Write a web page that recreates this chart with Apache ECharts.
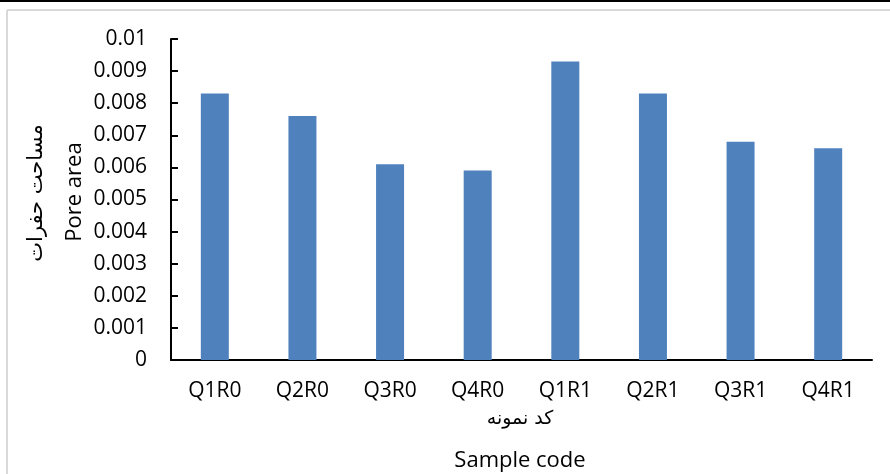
<!DOCTYPE html>
<html>
<head>
<meta charset="utf-8">
<script src="https://cdn.jsdelivr.net/npm/echarts@6/dist/echarts.min.js"></script>
<style>
  html, body { margin: 0; padding: 0; background: #fff; }
  #chart { width: 890px; height: 474px; }
</style>
</head>
<body>
<div id="chart"></div>
<script>
// Sample codes and measured pore area per sample
const categories = ['Q1R0', 'Q2R0', 'Q3R0', 'Q4R0', 'Q1R1', 'Q2R1', 'Q3R1', 'Q4R1'];
const poreArea = [0.0083, 0.0076, 0.0061, 0.0059, 0.0093, 0.0083, 0.0068, 0.0066];
const yMin = 0;
const yMax = 0.01;
const yStep = 0.001;

const latin = '"Open Sans", "Noto Sans", sans-serif';
const arabic = '"DejaVu Sans", serif';

const chart = echarts.init(document.getElementById('chart'), null, { renderer: 'canvas' });

chart.setOption({
  animation: false,
  backgroundColor: '#ffffff',
  grid: { left: 171, right: 18, top: 39, bottom: 114, containLabel: false },
  graphic: [
    // outer frame
    { type: 'rect', shape: { x: 0, y: 0, width: 890, height: 2 }, style: { fill: '#000' }, silent: true },
    { type: 'line', shape: { x1: 7, y1: 10, x2: 890, y2: 10 }, style: { stroke: '#d9d9d9', lineWidth: 2 }, silent: true },
    { type: 'line', shape: { x1: 7, y1: 10, x2: 7, y2: 474 }, style: { stroke: '#d9d9d9', lineWidth: 2 }, silent: true },
    // y-axis titles (Persian and English)
    {
      type: 'text', rotation: Math.PI / 2, x: 37, y: 193,
      style: { text: 'مساحت حفرات', font: '21px ' + arabic, fill: '#000', textAlign: 'center', textVerticalAlign: 'middle' }
    },
    {
      type: 'text', rotation: Math.PI / 2, x: 75, y: 192,
      style: { text: 'Pore area', font: '22px ' + latin, fill: '#000', textAlign: 'center', textVerticalAlign: 'middle' }
    },
    // x-axis titles (Persian and English)
    {
      type: 'text', x: 520, y: 419,
      style: { text: 'کد نمونه', font: '19px ' + arabic, fill: '#000', textAlign: 'center', textVerticalAlign: 'middle' }
    },
    {
      type: 'text', x: 520, y: 461,
      style: { text: 'Sample code', font: '22px ' + latin, fill: '#000', textAlign: 'center', textVerticalAlign: 'middle' }
    }
  ],
  xAxis: {
    type: 'category',
    data: categories,
    axisLine: { lineStyle: { color: '#000', width: 2 } },
    axisTick: { show: false },
    axisLabel: { color: '#000', fontFamily: latin, fontSize: 21, margin: 21 },
    splitLine: { show: false }
  },
  yAxis: {
    type: 'value',
    min: yMin,
    max: yMax,
    interval: yStep,
    axisLine: { show: true, lineStyle: { color: '#000', width: 2 } },
    axisTick: { show: true, inside: true, length: 7, lineStyle: { color: '#000', width: 2 } },
    axisLabel: {
      color: '#000', fontFamily: latin, fontSize: 21, margin: 24,
      formatter: v => (v === 0 ? '0' : parseFloat(v.toFixed(3)).toString())
    },
    splitLine: { show: false }
  },
  series: [{
    type: 'bar',
    data: poreArea,
    barWidth: 28,
    itemStyle: { color: '#4f81bd' }
  }]
});
</script>
</body>
</html>
